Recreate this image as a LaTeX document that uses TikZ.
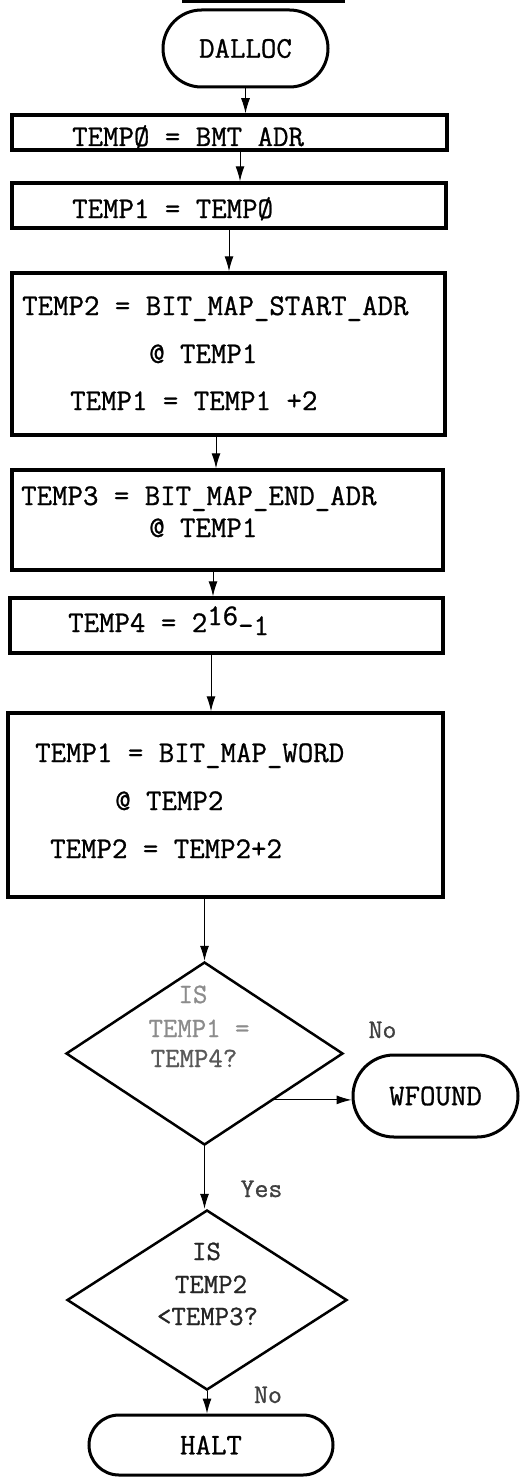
\documentclass[tikz,border=0pt]{standalone}
\usepackage{fontspec}
\setmonofont{Latin Modern Mono}[FakeBold=0.9]
\usetikzlibrary{shapes.geometric,shapes.misc,arrows.meta}
\begin{document}
\begin{tikzpicture}[x=1pt,y=-1pt,
  tt/.style={font=\ttfamily\bfseries\fontsize{30}{32}\selectfont, inner sep=0pt},
  txt/.style={tt, anchor=base west},
  qtxt/.style={tt, anchor=base, font=\ttfamily\bfseries\fontsize{28}{30}\selectfont},
  lbl/.style={tt, anchor=base, text=black!75, font=\ttfamily\bfseries\fontsize{27}{29}\selectfont},
  box/.style={draw, line width=3.5pt, inner sep=0pt},
  term/.style={draw, rounded rectangle, line width=3pt, inner sep=0pt, tt},
  dec/.style={draw, diamond, line width=2.5pt, inner sep=0pt},
  arr/.style={-{Latex[length=15pt,width=9pt]}, line width=1pt},
]
\useasboundingbox (0,0) rectangle (520,1477);
\fill[white] (0,0) rectangle (520,1477);

% cut-off underline at the top
\draw[line width=3pt] (182,1.5) -- (345,1.5);

% terminal
\node[term, minimum width=165pt, minimum height=77pt] (dalloc) at (245.5,48.5) {DALLOC};

% boxes
\node[box, minimum width=435pt, minimum height=35pt] (b1) at (229.5,132.5) {};
\node[txt] (t1) at (72,146) {TEMPØ = BMT ADR};

\node[box, minimum width=434pt, minimum height=45pt] (b2) at (229,205.5) {};
\node[txt] (t2) at (72,218) {TEMP1 = TEMPØ};

\node[box, minimum width=433pt, minimum height=162pt] (b3) at (228.5,354) {};
\node[txt] (t3a) at (22,315) {TEMP2 = BIT\_MAP\_START\_ADR};
\node[txt] (t3b) at (149,363) {@ TEMP1};
\node[txt] (t3c) at (70,410) {TEMP1 = TEMP1 +2};

\node[box, minimum width=431pt, minimum height=100pt] (b4) at (227.5,520) {};
\node[txt] (t4a) at (21,505) {TEMP3 = BIT\_MAP\_END\_ADR};
\node[txt] (t4b) at (149,537) {@ TEMP1};

\node[box, minimum width=433pt, minimum height=55pt] (b5) at (226.5,625.5) {};
\node[txt] (t5) at (68,632) {TEMP4 = 2\raisebox{7pt}{16}\raisebox{-3pt}{-1}};

\node[box, minimum width=435pt, minimum height=184pt] (b6) at (225.5,805) {};
\node[txt] (t6a) at (35,762) {TEMP1 = BIT\_MAP\_WORD};
\node[txt] (t6b) at (115,810) {@ TEMP2};
\node[txt] (t6c) at (50,858) {TEMP2 = TEMP2+2};

% decision 1
\node[dec, minimum width=277pt, minimum height=183pt] (d1) at (204.5,1053.5) {};
\node[qtxt, text=black!45] (q1a) at (193,1003) {IS};
\node[qtxt, text=black!45] (q1b) at (199,1037) {TEMP1 =};
\node[qtxt, text=black!65] (q1c) at (194,1067) {TEMP4?};
\node[lbl] (no1) at (382.5,1038) {No};

\node[term, minimum width=165pt, minimum height=82pt] (wfound) at (435.5,1096) {WFOUND};

% decision 2
\node[dec, minimum width=280pt, minimum height=180pt] (d2) at (207,1300) {};
\node[qtxt, text=black!85] (q2a) at (206.5,1260) {IS};
\node[qtxt, text=black!85] (q2b) at (211,1293) {TEMP2};
\node[qtxt, text=black!85] (q2c) at (207.5,1325) {<TEMP3?};
\node[lbl] (yes) at (261.5,1197) {Yes};
\node[lbl] (no2) at (268,1403) {No};

\node[term, minimum width=244pt, minimum height=60pt] (halt) at (211,1445) {HALT};

% connectors
\draw[arr] (dalloc.south) -- (dalloc.south |- b1.north);
\draw[arr] ([xshift=10.5pt]b1.south) -- ([xshift=10.5pt]b1.south |- b2.north);
\draw[arr] ([yshift=2pt]b2.south) -- (b2.south |- b3.north);
\draw[arr] ([xshift=-12.5pt]b3.south) -- ([xshift=-12.5pt]b3.south |- b4.north);
\draw[arr] ([xshift=-14.5pt]b4.south) -- ([xshift=-14.5pt]b4.south |- b5.north);
\draw[arr] ([xshift=-15.5pt]b5.south) -- ([xshift=-15.5pt]b5.south |- b6.north);
\draw[arr] (d1.north |- b6.south) -- (d1.north);
\draw[arr] (d1.south east) -- (d1.south east -| wfound.west);
\draw[arr] (d1.south) -- (d1.south |- d2.north);
\draw[arr] (d2.south) -- (d2.south |- halt.north);
\end{tikzpicture}
\end{document}
